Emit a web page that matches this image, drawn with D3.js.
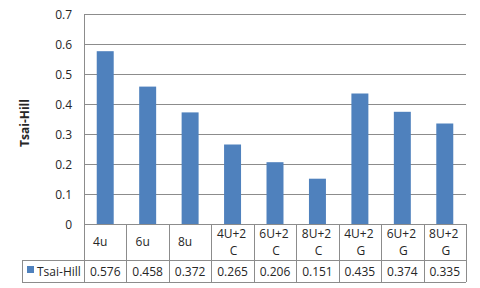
<!DOCTYPE html>
<html><head><meta charset="utf-8">
<script src="https://cdn.jsdelivr.net/npm/d3@7"></script>
<style>body{margin:0;background:#fff}svg{display:block}text{font-family:"Open Sans","Liberation Sans",sans-serif}</style>
</head><body><svg id="c" width="480" height="288"></svg>
<script>
const categories = [["4u"],["6u"],["8u"],["4U+2","C"],["6U+2","C"],["8U+2","C"],["4U+2","G"],["6U+2","G"],["8U+2","G"]];
const values = [0.576,0.458,0.372,0.265,0.206,0.151,0.435,0.374,0.335];
const valueLabels = ["0.576","0.458","0.372","0.265","0.206","0.151","0.435","0.374","0.335"];
const yTicks = [0,0.1,0.2,0.3,0.4,0.5,0.6,0.7];
const seriesName = "Tsai-Hill";

const svg = d3.select("#c");
const L=84, R=466, T=14, B=224, rowMid=260, rowBot=282, legL=22;
const grid="#8c8c8c", barC="#4f81bd", txt="#262626";
const x = d3.scaleBand().domain(d3.range(categories.length)).range([L,R]).paddingInner(0.6).paddingOuter(0.3);
const xc = d3.scaleBand().domain(d3.range(categories.length)).range([L,R]);
const y = d3.scaleLinear().domain([0,0.7]).range([B,T]);

// gridlines
svg.append("g").selectAll("line").data(yTicks).join("line")
  .attr("x1",L).attr("x2",R).attr("y1",d=>Math.round(y(d))+0.5).attr("y2",d=>Math.round(y(d))+0.5)
  .attr("stroke",grid).attr("stroke-width",1);
// y labels
svg.append("g").selectAll("text").data(yTicks).join("text")
  .attr("x",L-12).attr("y",d=>y(d)+4.5).attr("text-anchor","end")
  .attr("font-size",12).attr("fill",txt).text(d=>d===0?"0":d3.format(".1f")(d));
// y title
svg.append("text").attr("transform",`translate(29,${(T+B)/2+4}) rotate(-90)`)
  .attr("text-anchor","middle").attr("font-size",12).attr("font-weight","bold").attr("fill",txt).text(seriesName);
// bars
svg.append("g").selectAll("rect").data(values).join("rect")
  .attr("x",(d,i)=>x(i)).attr("width",x.bandwidth()).attr("y",d=>y(d)).attr("height",d=>B-y(d)).attr("fill",barC);
// table lines
const tl = svg.append("g").attr("stroke",grid).attr("stroke-width",1).attr("shape-rendering","crispEdges");
tl.append("line").attr("x1",L+0.5).attr("x2",L+0.5).attr("y1",T).attr("y2",rowBot);
xc.domain().forEach(i=>{const xx=Math.round(xc(i)+xc.bandwidth())+0.5;
  tl.append("line").attr("x1",xx).attr("x2",xx).attr("y1",B).attr("y2",rowBot);});
tl.append("line").attr("x1",legL).attr("x2",R).attr("y1",rowMid+0.5).attr("y2",rowMid+0.5);
tl.append("line").attr("x1",legL).attr("x2",R).attr("y1",rowBot+0.5).attr("y2",rowBot+0.5);
tl.append("line").attr("x1",legL+0.5).attr("x2",legL+0.5).attr("y1",rowMid).attr("y2",rowBot);
// category labels
const cg = svg.append("g");
categories.forEach((c,i)=>{
  const cx = xc(i)+xc.bandwidth()/2;
  const t = cg.append("text").attr("text-anchor","middle").attr("font-size",12).attr("fill",txt);
  if(c.length===1){ t.append("tspan").attr("x",cx-5).attr("y",246).text(c[0]); }
  else { t.append("tspan").attr("x",cx-1).attr("y",238).text(c[0]); t.append("tspan").attr("x",cx+1).attr("y",255).text(c[1]); }
});
// values
svg.append("g").selectAll("text").data(valueLabels).join("text")
  .attr("x",(d,i)=>xc(i)+xc.bandwidth()/2).attr("y",276).attr("text-anchor","middle")
  .attr("font-size",12).attr("fill",txt).text(d=>d);
// legend
svg.append("rect").attr("x",27).attr("y",266).attr("width",7).attr("height",7).attr("fill",barC);
svg.append("text").attr("x",37).attr("y",276).attr("font-size",12).attr("fill",txt).text(seriesName);
</script></body></html>
